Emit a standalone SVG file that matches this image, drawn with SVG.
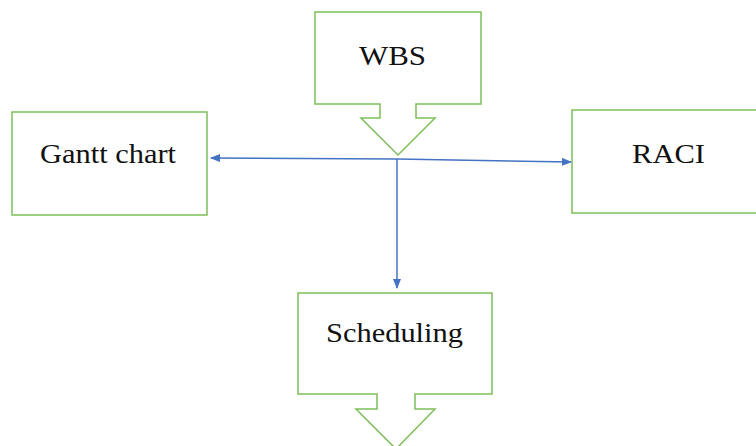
<svg xmlns="http://www.w3.org/2000/svg" width="756" height="446" viewBox="0 0 756 446">
<style>
.box{fill:#ffffff;stroke:#7fbf5a;stroke-width:1.5}
.lbl{font-family:"Liberation Serif","Times New Roman",serif;font-size:27px;fill:#111111}
.con{stroke:#4472c4;stroke-width:1.5;fill:none}
</style>
<defs>
<marker id="ah" markerWidth="10" markerHeight="8" refX="9" refY="4" orient="auto" markerUnits="userSpaceOnUse">
<path d="M0,0 L10,4 L0,8 Z" fill="#4472c4"/>
</marker>
</defs>
<rect width="756" height="446" fill="#ffffff"/>
<g id="wbs">
<path class="box" d="M315,12 H481 V104 H416 V118 H435 L398,155 L361,118 H380 V104 H315 Z"/>
<text class="lbl" x="359" y="65" textLength="67" lengthAdjust="spacingAndGlyphs">WBS</text>
</g>
<g id="gantt">
<rect class="box" x="12" y="112" width="195" height="103"/>
<text class="lbl" x="40" y="163" textLength="136" lengthAdjust="spacingAndGlyphs">Gantt chart</text>
</g>
<g id="raci">
<rect class="box" x="572" y="110" width="200" height="103"/>
<text class="lbl" x="632" y="163" textLength="73" lengthAdjust="spacingAndGlyphs">RACI</text>
</g>
<g id="scheduling">
<path class="box" d="M298,293 H492 V394 H415 V409 H435 L396,449 L356,409 H377 V394 H298 Z"/>
<text class="lbl" x="326" y="342" textLength="137" lengthAdjust="spacingAndGlyphs">Scheduling</text>
</g>
<g id="connectors">
<line class="con" x1="397" y1="159" x2="211" y2="158" marker-end="url(#ah)"/>
<line class="con" x1="397" y1="159" x2="571" y2="162" marker-end="url(#ah)"/>
<line class="con" x1="397" y1="159" x2="397" y2="288" marker-end="url(#ah)"/>
</g>
</svg>
